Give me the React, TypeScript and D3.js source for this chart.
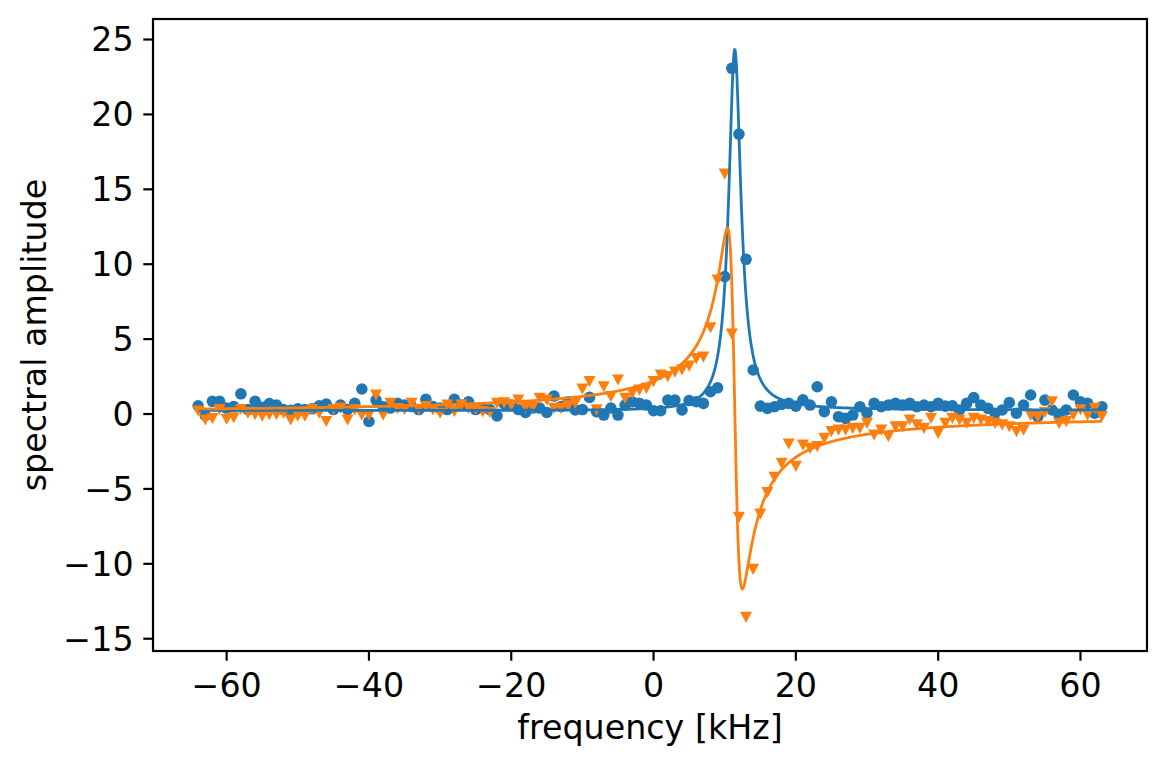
import React from 'react';
import * as d3 from 'd3';

// frequency grid [kHz]
const freqKHz: number[] = d3.range(-64, 64);

// real part (blue circles), f = -64 .. 63
const realPart: number[] = [
  0.55, -0.1, 0.85, 0.85, 0.4, 0.5, 1.35, 0.3, 0.85, 0.45,
  0.7, 0.6, 0.3, 0.25, 0.35, 0.3, 0.35, 0.55, 0.66, 0.3,
  0.6, 0.3, 0.71, 1.67, -0.5, 0.93, 0.49, 0.4, 0.71, 0.6,
  0.5, 0.3, 0.98, 0.5, 0.4, 0.3, 0.98, 0.6, 0.82, 0.3,
  0.4, 0.3, -0.13, 0.7, 0.6, 0.3, 0.1, 0.4, 0.4, 0.1,
  1.2, 0.5, 0.82, 0.27, 0.3, 1.11, 0.16, -0.07, 0.4, -0.07,
  0.6, 0.82, 0.71, 0.6, 0.22, 0.22, 0.93, 0.93, 0.27, 0.9,
  0.82, 0.71, 1.49, 1.75, 9.17, 23.08, 18.69, 10.33, 2.94, 0.53,
  0.38, 0.49, 0.65, 0.71, 0.53, 0.95, 0.6, 1.82, 0.16, 0.82,
  -0.18, -0.29, -0.07, 0.49, 0.05, 0.71, 0.49, 0.6, 0.71, 0.6,
  0.71, 0.49, 0.6, 0.49, 0.71, 0.53, 0.55, 0.27, 0.71, 1.1,
  0.6, 0.38, 0.05, 0.27, 0.76, 0.05, 0.6, 1.27, -0.18, 0.93,
  0.27, -0.07, 0.27, 1.27, 0.82, 0.71, 0.05, 0.49,
];

// imaginary part (orange triangles), f = -64 .. 63
const imagPart: number[] = [
  0.2, -0.4, -0.3, 0.3, -0.35, -0.25, 0.3, 0.05, -0.05, -0.15,
  -0.05, -0.05, 0.05, -0.4, -0.15, -0.15, 0.3, 0.05, -0.5, 0.3,
  0.4, -0.4, 0.27, -0.07, -0.07, 1.27, -0.07, 0.71, 0.37, 0.3,
  0.71, 0.3, 0.5, 0.27, 0.05, 0.6, 0.16, 0.6, 0.38, 0.3,
  0.16, 0.1, 0.71, 0.75, 0.6, 0.93, 0.44, 0.44, 1.04, 0.93,
  0.38, 0.38, 0.55, 0.71, 1.66, 2.16, 0.27, 1.82, 1.16, 2.27,
  1.04, 1.38, 1.6, 1.71, 2.16, 2.6, 2.5, 2.8, 2.95, 3.2,
  3.7, 3.8, 5.76, 8.94, 16.02, 5.34, -6.9, -13.57, -10.37, -6.68,
  -5.25, -4.23, -3.29, -2.0, -3.5, -2.07, -2.3, -2.18, -1.62, -1.18,
  -1.07, -1.07, -0.96, -0.96, -0.62, -1.4, -1.07, -1.51, -0.85, -0.85,
  -0.4, -0.73, -0.96, -0.29, -1.29, -0.62, -0.29, -0.4, -0.62, -0.29,
  -0.4, -0.51, -0.62, -0.73, -0.85, -1.18, -1.07, -0.1, -0.2, 0.1,
  0.82, -0.62, -0.51, -0.07, 0.27, -0.07, 0.38, -0.18,
];

const xTicks: number[] = [-60, -40, -20, 0, 20, 40, 60];
const yTicks: number[] = [-15, -10, -5, 0, 5, 10, 15, 20, 25];

// fitted complex Lorentzian parameters
const fitAmplitude = 25.3;
const fitCenter = 11.4;
const fitWidth = 1.05;
const fitPhase = 0.03;
const fitRealOffset = 0.25;
const fitImagOffset = 0.0;
const fitGrid: number[] = d3.range(-64, 63.0001, 0.05);

function lorentz(f: number): [number, number] {
  const d = f - fitCenter;
  const den = fitWidth * fitWidth + d * d;
  const re0 = (fitAmplitude * fitWidth) / den;
  const im0 = (-fitAmplitude * d) / den;
  const c = Math.cos(fitPhase), s = Math.sin(fitPhase);
  return [re0 * c - im0 * s + fitRealOffset, im0 * c + re0 * s + fitImagOffset];
}

const BLUE = '#1f77b4';
const ORANGE = '#ff7f0e';
const FONT = "'DejaVu Sans', sans-serif";
const FS = 33.3;

export default function App() {
  const L = 153, R = 1147, T = 19, B = 651;
  const x = d3.scaleLinear().domain([-70.35, 69.35]).range([L, R]);
  const y = d3.scaleLinear().domain([-15.82, 26.37]).range([B, T]);
  const fmt = (v: number) => (v < 0 ? `\u2212${-v}` : `${v}`);

  const fitPts = fitGrid.map((f) => ({ f, v: lorentz(f) }));
  const lineRe = d3.line<{ f: number; v: [number, number] }>().x((d) => x(d.f)).y((d) => y(d.v[0]));
  const lineIm = d3.line<{ f: number; v: [number, number] }>().x((d) => x(d.f)).y((d) => y(d.v[1]));

  const tw = 12, th = 11.2;
  const tri = (cx: number, cy: number) =>
    `M${cx - tw / 2},${cy - th / 2}L${cx + tw / 2},${cy - th / 2}L${cx},${cy + th / 2}Z`;

  const tickLen = 9.7;
  const sw = 2.2;

  return (
    <svg width={1168} height={768} style={{ position: 'absolute', left: 0, top: 0, background: '#fff' }}>
      <rect x={0} y={0} width={1168} height={768} fill="#fff" />
      <defs>
        <clipPath id="plotclip">
          <rect x={L} y={T} width={R - L} height={B - T} />
        </clipPath>
      </defs>
      <g clipPath="url(#plotclip)">
        {freqKHz.map((f, i) => (
          <circle key={`b${i}`} cx={x(f)} cy={y(realPart[i])} r={5.8} fill={BLUE} />
        ))}
        {freqKHz.map((f, i) => (
          <path key={`o${i}`} d={tri(x(f), y(imagPart[i]))} fill={ORANGE} />
        ))}
        <path d={lineRe(fitPts) || ''} fill="none" stroke={BLUE} strokeWidth={2.8} strokeLinejoin="round" />
        <path d={lineIm(fitPts) || ''} fill="none" stroke={ORANGE} strokeWidth={2.8} strokeLinejoin="round" />
      </g>
      <rect x={L} y={T} width={R - L} height={B - T} fill="none" stroke="#000" strokeWidth={sw} />
      {xTicks.map((t) => (
        <g key={`xt${t}`}>
          <line x1={x(t)} x2={x(t)} y1={B} y2={B + tickLen} stroke="#000" strokeWidth={sw} />
          <text x={x(t)} y={697} textAnchor="middle" fontFamily={FONT} fontSize={FS} fill="#000">
            {fmt(t)}
          </text>
        </g>
      ))}
      {yTicks.map((t) => (
        <g key={`yt${t}`}>
          <line x1={L - tickLen} x2={L} y1={y(t)} y2={y(t)} stroke="#000" strokeWidth={sw} />
          <text x={L - tickLen - 9.7} y={y(t) + 11.8} textAnchor="end" fontFamily={FONT} fontSize={FS} fill="#000">
            {fmt(t)}
          </text>
        </g>
      ))}
      <text x={(L + R) / 2} y={739} textAnchor="middle" fontFamily={FONT} fontSize={FS} fill="#000">
        frequency [kHz]
      </text>
      <text
        transform={`translate(46,${(T + B) / 2}) rotate(-90)`}
        textAnchor="middle"
        fontFamily={FONT}
        fontSize={FS}
        fill="#000"
      >
        spectral amplitude
      </text>
    </svg>
  );
}
